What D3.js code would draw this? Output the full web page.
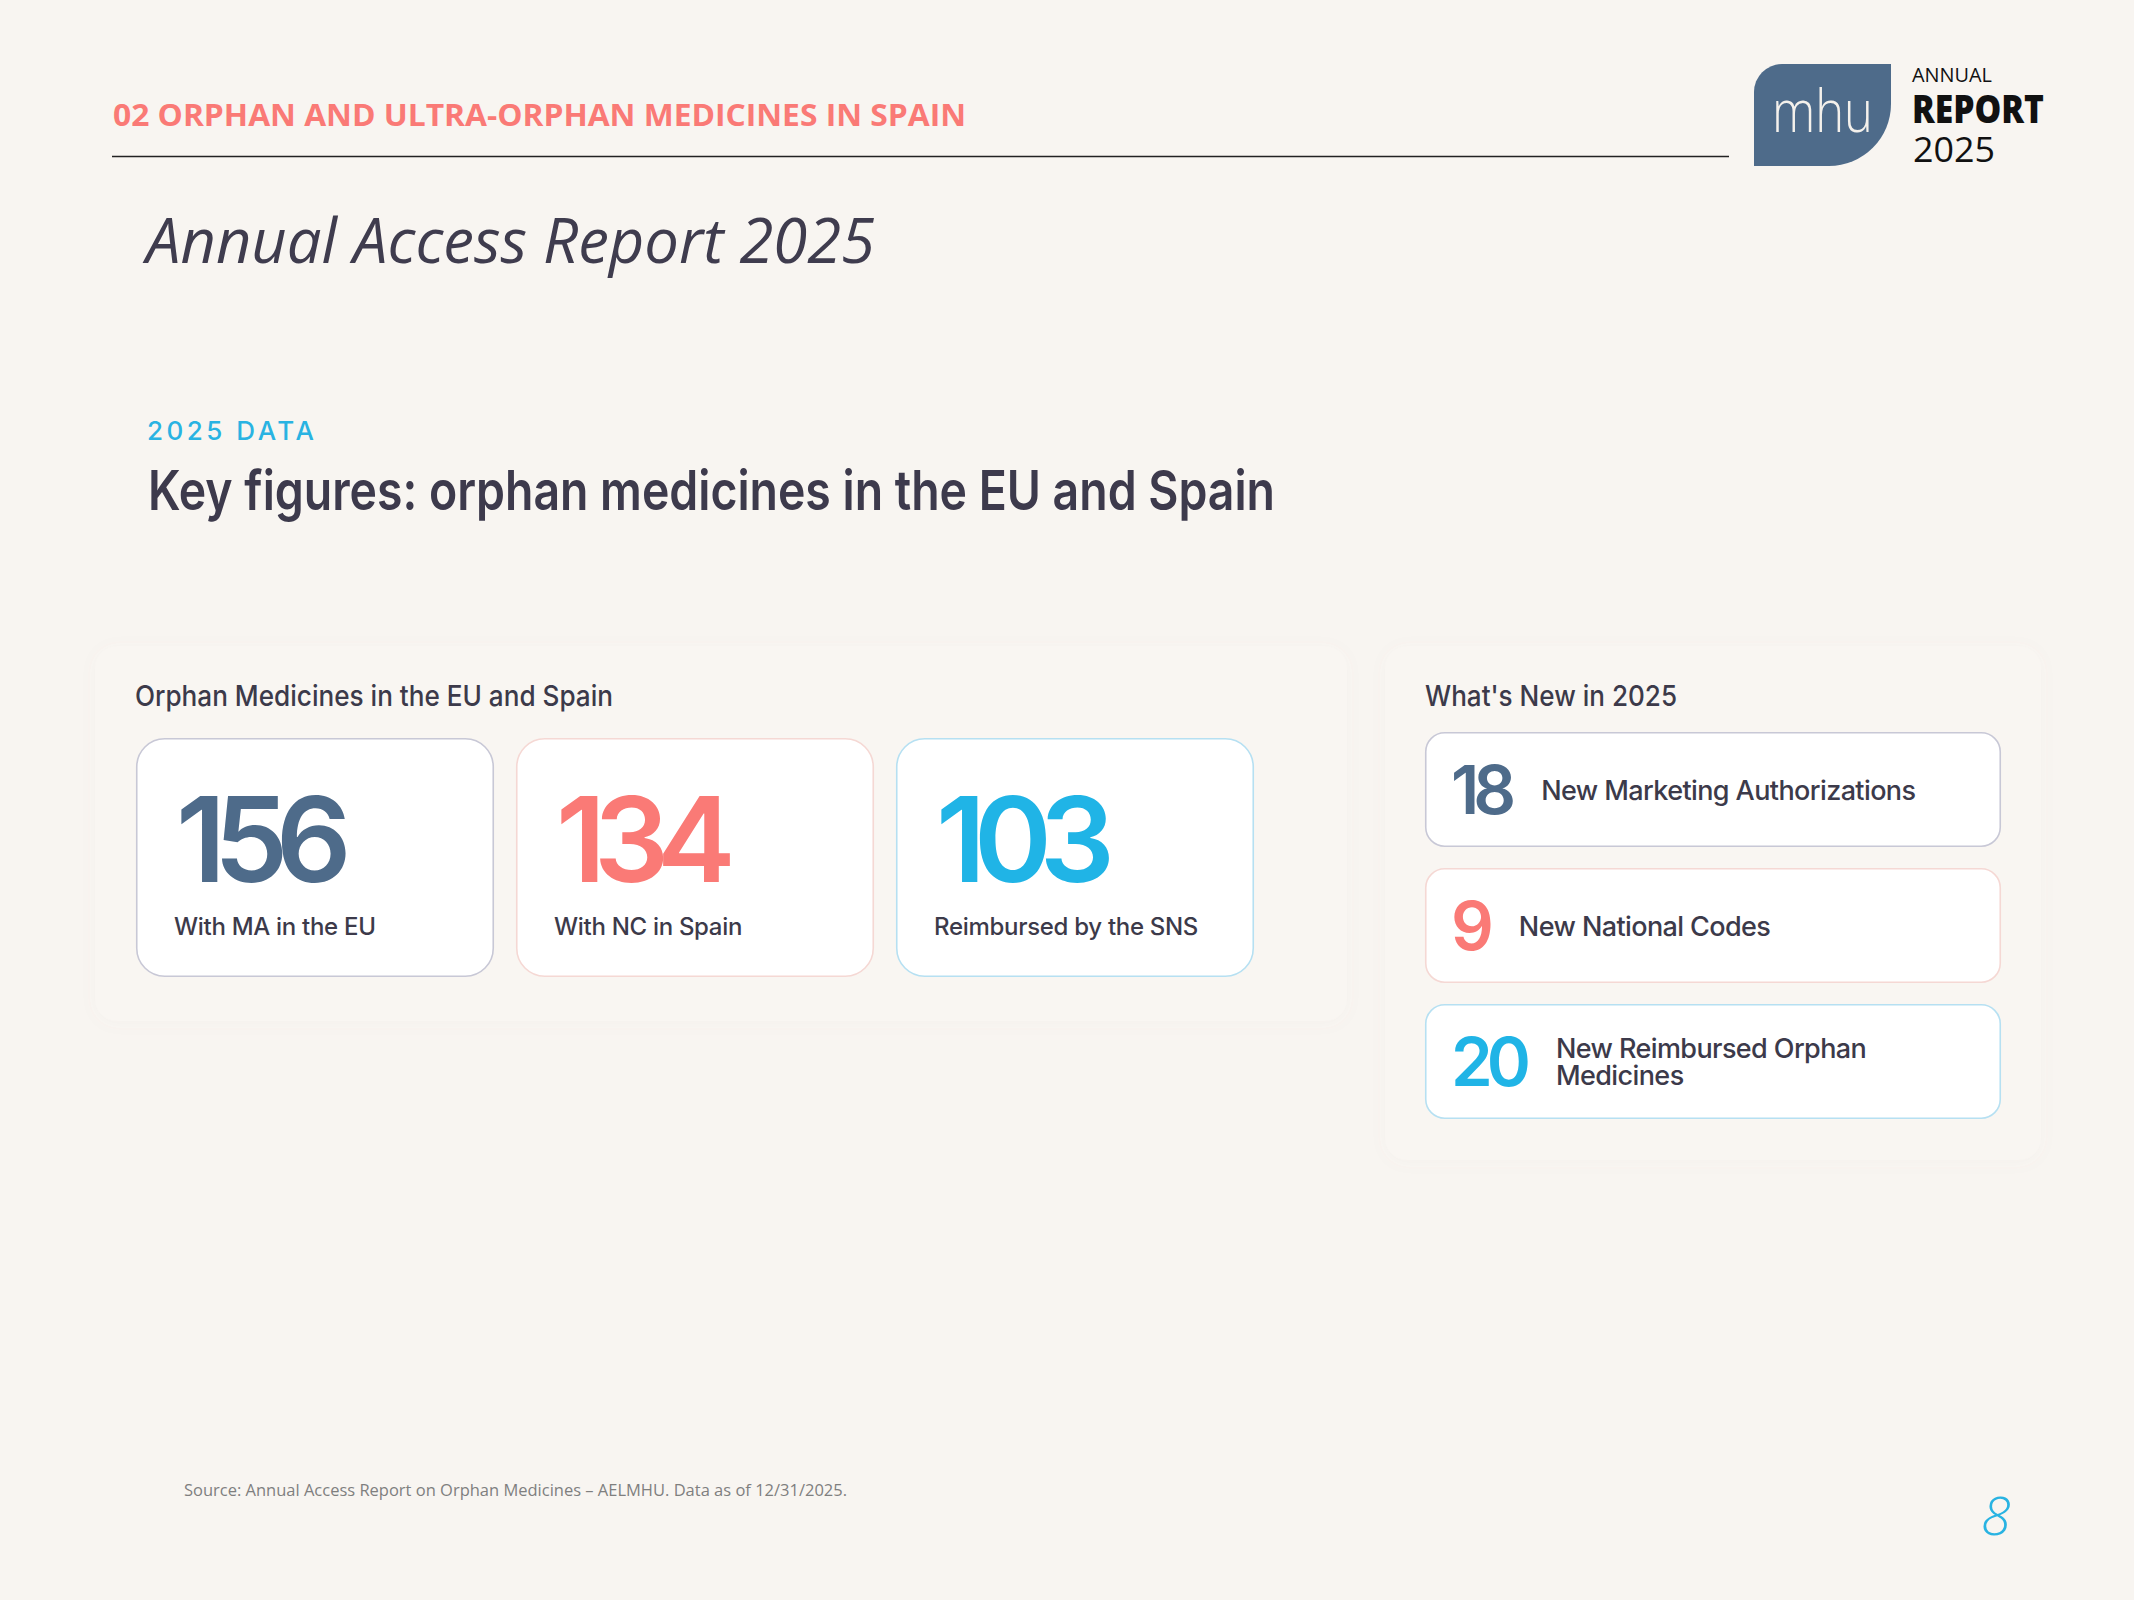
<!DOCTYPE html>
<html>
<head>
<meta charset="utf-8">
<script src="https://cdn.jsdelivr.net/npm/d3@7"></script>
<style>
  html, body { margin: 0; padding: 0; background: #F8F5F1; }
  svg { display: block; }
</style>
</head>
<body>
<script>
// ---- Data ----
const sectionTitle = "02 ORPHAN AND ULTRA-ORPHAN MEDICINES IN SPAIN";
const reportTitle = "Annual Access Report 2025";
const eyebrow = "2025 DATA";
const headline = "Key figures: orphan medicines in the EU and Spain";
const leftPanelTitle = "Orphan Medicines in the EU and Spain";
const keyLabels = ["With MA in the EU", "With NC in Spain", "Reimbursed by the SNS"];
const keyValues = [156, 134, 103];
const rightPanelTitle = "What's New in 2025";
const newLabels = [["New Marketing Authorizations"], ["New National Codes"], ["New Reimbursed Orphan", "Medicines"]];
const newValues = [18, 9, 20];
const sourceNote = "Source: Annual Access Report on Orphan Medicines \u2013 AELMHU. Data as of 12/31/2025.";
const pageNumber = "8";
const logoLines = ["ANNUAL", "REPORT", "2025"];

// ---- Styles ----
const palette = ["#4E6B8A", "#FA7A76", "#20B4E6"];
const borders = ["#C8C8D6", "#F5D8D4", "#B6E0F2"];
const ink = "#3C3A4A";
const W = 2134, H = 1600;

const svg = d3.select("body").append("svg").attr("width", W).attr("height", H);
const defs = svg.append("defs");
const f = defs.append("filter").attr("id", "soft").attr("x", "-10%").attr("y", "-10%").attr("width", "120%").attr("height", "130%");
f.append("feDropShadow").attr("dx", 0).attr("dy", 2).attr("stdDeviation", 8).attr("flood-color", "#9a8f80").attr("flood-opacity", 0.03);

svg.append("rect").attr("width", W).attr("height", H).attr("fill", "#F8F5F1");

const SANS = "Inter, 'Noto Sans', sans-serif";
const CAL = "'Open Sans', 'Noto Sans', sans-serif";

// Header
svg.append("text").text(sectionTitle)
  .attr("x", 113).attr("y", 126)
  .attr("font-family", CAL).attr("font-weight", 700).attr("font-size", 31)
  .attr("fill", "#FA7A76")
  .attr("textLength", 853).attr("lengthAdjust", "spacingAndGlyphs");

svg.append("line").attr("x1", 112).attr("x2", 1729).attr("y1", 156.5).attr("y2", 156.5)
  .attr("stroke", "#222").attr("stroke-width", 1.6);

// Logo
const lx0 = 1754, ly0 = 64, lx1 = 1891, ly1 = 166, r1 = 28, r2 = 62;
svg.append("path")
  .attr("d", `M${lx0},${ly0 + r1} A${r1},${r1} 0 0 1 ${lx0 + r1},${ly0} L${lx1},${ly0} L${lx1},${ly1 - r2} A${r2},${r2} 0 0 1 ${lx1 - r2},${ly1} L${lx0},${ly1} Z`)
  .attr("fill", "#4E6B8A");
svg.append("text").text("mhu")
  .attr("x", 1772).attr("y", 132)
  .attr("font-family", CAL).attr("font-weight", 300).attr("font-size", 58)
  .attr("fill", "#F4F1EC")
  .attr("textLength", 101).attr("lengthAdjust", "spacingAndGlyphs");

svg.append("text").text(logoLines[0]).attr("x", 1912).attr("y", 82)
  .attr("font-family", CAL).attr("font-weight", 400).attr("font-size", 20).attr("fill", "#111")
  .attr("textLength", 80).attr("lengthAdjust", "spacingAndGlyphs");
svg.append("text").text(logoLines[1]).attr("x", 1912).attr("y", 123)
  .attr("font-family", CAL).attr("font-weight", 800).attr("font-size", 38).attr("fill", "#111")
  .attr("textLength", 132).attr("lengthAdjust", "spacingAndGlyphs");
svg.append("text").text(logoLines[2]).attr("x", 1913).attr("y", 162)
  .attr("font-family", CAL).attr("font-weight", 400).attr("font-size", 35).attr("fill", "#111")
  .attr("textLength", 82).attr("lengthAdjust", "spacingAndGlyphs");

// Report title
svg.append("text").text(reportTitle)
  .attr("x", 146).attr("y", 263)
  .attr("font-family", CAL).attr("font-style", "italic").attr("font-weight", 400).attr("font-size", 62)
  .attr("fill", "#3F3C4E")
  .attr("textLength", 729).attr("lengthAdjust", "spacingAndGlyphs");

// Eyebrow + headline
svg.append("text").text(eyebrow)
  .attr("x", 147).attr("y", 440)
  .attr("font-family", SANS).attr("font-weight", 500).attr("font-size", 26)
  .attr("fill", "#29B3E2")
  .attr("textLength", 167).attr("lengthAdjust", "spacing");

svg.append("text").text(headline)
  .attr("x", 148).attr("y", 510)
  .attr("font-family", SANS).attr("font-weight", 600).attr("font-size", 55)
  .attr("fill", "#3D3A4C")
  .attr("textLength", 1127).attr("lengthAdjust", "spacingAndGlyphs");

// Panels
svg.append("rect").attr("x", 95).attr("y", 646).attr("width", 1252).attr("height", 375).attr("rx", 22)
  .attr("fill", "#F9F6F2").attr("filter", "url(#soft)");
svg.append("rect").attr("x", 1385).attr("y", 646).attr("width", 656).attr("height", 514).attr("rx", 22)
  .attr("fill", "#F9F6F2").attr("filter", "url(#soft)");

svg.append("text").text(leftPanelTitle)
  .attr("x", 135).attr("y", 706)
  .attr("font-family", SANS).attr("font-weight", 500).attr("font-size", 29)
  .attr("fill", ink)
  .attr("textLength", 478).attr("lengthAdjust", "spacingAndGlyphs");

svg.append("text").text(rightPanelTitle)
  .attr("x", 1425).attr("y", 706)
  .attr("font-family", SANS).attr("font-weight", 500).attr("font-size", 29)
  .attr("fill", ink)
  .attr("textLength", 252).attr("lengthAdjust", "spacingAndGlyphs");

// Left key-figure cards
const xCard = d3.scaleBand().domain(keyLabels).range([136, 1254]).paddingInner(22 / 380);
const cardTop = 738, cardH = 239;
const cards = svg.append("g").selectAll("g").data(keyLabels).join("g")
  .attr("transform", d => `translate(${xCard(d)},${cardTop})`);
cards.append("rect")
  .attr("x", 0.75).attr("y", 0.75)
  .attr("width", xCard.bandwidth() - 1.5).attr("height", cardH - 1.5)
  .attr("rx", 28)
  .attr("fill", "#FFFFFF")
  .attr("stroke", (d, i) => borders[i]).attr("stroke-width", 1.6);
cards.append("text")
  .text((d, i) => keyValues[i])
  .attr("x", 40).attr("y", 144)
  .attr("font-family", SANS).attr("font-weight", 600).attr("font-size", 118)
  .attr("letter-spacing", -12)
  .attr("fill", (d, i) => palette[i]);
cards.append("text")
  .text(d => d)
  .attr("x", 38).attr("y", 197)
  .attr("font-family", SANS).attr("font-weight", 500).attr("font-size", 24)
  .attr("letter-spacing", -0.3)
  .attr("fill", ink);

// Right "what's new" rows
const yRow = d3.scaleBand().domain(newValues.map((d, i) => i)).range([732, 1119]).paddingInner(21 / 136);
const rowX = 1425, rowW = 576;
const rows = svg.append("g").selectAll("g").data(newValues).join("g")
  .attr("transform", (d, i) => `translate(${rowX},${yRow(i)})`);
rows.append("rect")
  .attr("x", 0.75).attr("y", 0.75)
  .attr("width", rowW - 1.5).attr("height", yRow.bandwidth() - 1.5)
  .attr("rx", 19)
  .attr("fill", "#FFFFFF")
  .attr("stroke", (d, i) => borders[i]).attr("stroke-width", 1.6);
rows.append("text")
  .text(d => d)
  .attr("x", 26).attr("y", yRow.bandwidth() / 2 + 24.5)
  .attr("font-family", SANS).attr("font-weight", 600).attr("font-size", 67)
  .attr("letter-spacing", -6)
  .attr("fill", (d, i) => palette[i]);
rows.each(function (d, i) {
  const g = d3.select(this);
  const nw = g.select("text").node().getComputedTextLength();
  const lines = newLabels[i];
  const lh = 27.5;
  const cy = yRow.bandwidth() / 2;
  lines.forEach((ln, k) => {
    g.append("text")
      .attr("font-family", SANS).attr("font-weight", 500).attr("font-size", 27)
      .attr("letter-spacing", -0.6)
      .attr("fill", ink)
      .attr("x", 26 + nw + 31)
      .attr("y", cy + 10 + (k - (lines.length - 1) / 2) * lh)
      .text(ln);
  });
});

// Footer
svg.append("text").text(sourceNote)
  .attr("x", 184).attr("y", 1496)
  .attr("font-family", CAL).attr("font-weight", 400).attr("font-size", 16)
  .attr("fill", "#7F7F7F")
  .attr("textLength", 663).attr("lengthAdjust", "spacingAndGlyphs");

svg.append("text").text(pageNumber)
  .attr("x", 1981).attr("y", 1535)
  .attr("font-family", CAL).attr("font-style", "italic").attr("font-weight", 300).attr("font-size", 54)
  .attr("fill", "#29B3E2");
</script>
</body>
</html>
